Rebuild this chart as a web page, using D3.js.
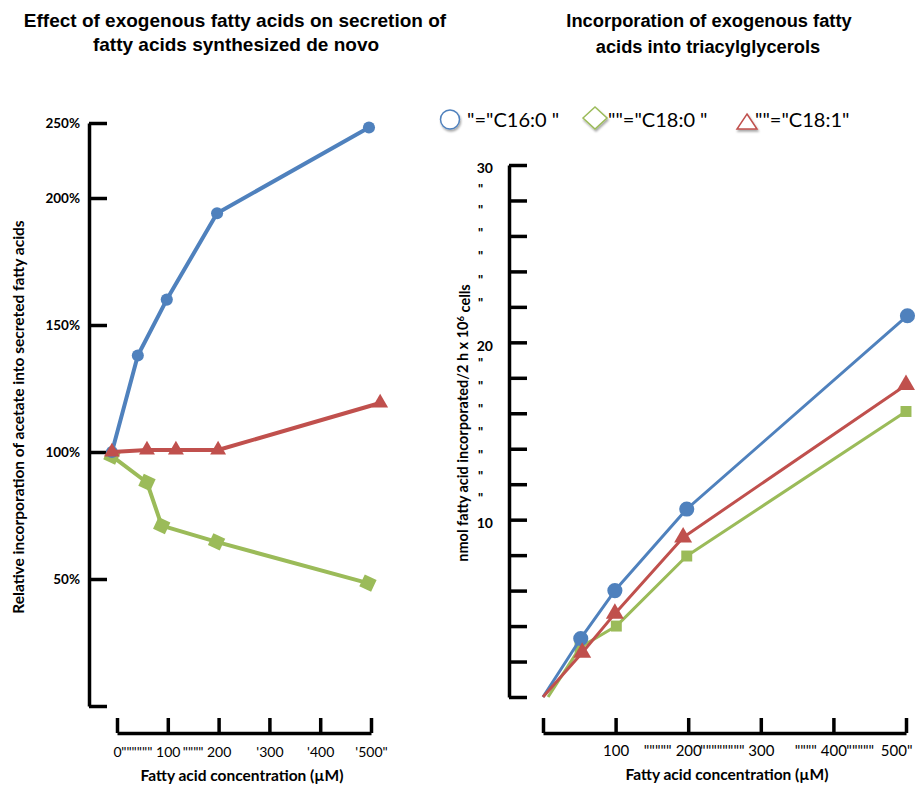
<!DOCTYPE html>
<html>
<head>
<meta charset="utf-8">
<script src="https://cdn.jsdelivr.net/npm/d3@7"></script>
<style>
  body { margin: 0; background: #fff; }
  svg text { font-family: Lato, "Open Sans", sans-serif; fill: #000; }
  .title { font-family: "Liberation Sans", Arial, sans-serif; font-weight: bold; font-size: 19px; }
  .axis path, .axis line { stroke: #000; stroke-width: 3.5; }
</style>
</head>
<body>
<div id="chart"></div>
<script>
// ---- left panel: relative incorporation (% of control) ----
var leftConcC160 = [-10, 41, 98, 197, 496];
var leftC160 = [100, 138, 160, 194, 247];
var leftConcC180 = [-10, 59, 88, 196, 494];
var leftC180 = [98.4, 88, 71, 64.6, 48.4];
var leftConcC181 = [-10, 59, 116, 199, 518];
var leftC181 = [100, 100.8, 100.8, 100.8, 119.3];

var leftYTicks = [0, 50, 100, 150, 200, 250];
var leftXTicks = [0, 100, 200, 300, 400, 500];
var leftXLabels = ['0', '100', '200', "'300", "'400", "'500\""];
var leftXFillAt = [39, 150];
var leftXFillText = ['""""""', '""""'];

// ---- right panel: nmol incorporated into TAG ----
var rightConcC160 = [0, 52, 99, 198, 502];
var rightC160 = [0, 3.3, 6.0, 10.6, 21.5];
var rightConcC180 = [7, 51, 101, 198, 500];
var rightC180 = [0, 2.8, 4.0, 7.95, 16.1];
var rightConcC181 = [0, 54, 99, 193, 500];
var rightC181 = [0, 2.5, 4.7, 9.0, 17.6];

var rightYTicks = [0, 2, 4, 6, 8, 10, 12, 14, 16, 18, 20, 22, 24, 26, 28, 30];
var rightYQuotes = [28.8, 27.6, 26.3, 25.0, 23.7, 22.4, 19.0, 17.7, 16.4, 15.1, 13.8, 12.6, 11.4];
var rightXTicks = [0, 100, 200, 300, 400, 500];
var rightXLabels = ['', '100', '200', '300', '400', '500"'];
var rightXFillAt = [158, 247, 362, 437];
var rightXFillText = ['"""""', '""""""""', '""""', '"""""'];

var legendNames = ['"="C16:0  "', '""="C18:0  "', '""="C18:1"'];

var blue = '#4F81BD', green = '#9BBB59', red = '#C0504D';

var svg = d3.select('#chart')
  .append('svg')
  .attr('width', 918)
  .attr('height', 788);

var defs = svg.append('defs');
defs.append('filter').attr('id', 'shadow')
  .attr('x', '-50%').attr('y', '-50%').attr('width', '200%').attr('height', '200%')
  .append('feDropShadow')
  .attr('dx', 1).attr('dy', 2).attr('stdDeviation', 1.2)
  .attr('flood-color', '#000').attr('flood-opacity', 0.35);

// titles
svg.append('text').attr('class', 'title').attr('x', 235).attr('y', 27)
  .attr('text-anchor', 'middle').text('Effect of exogenous fatty acids on secretion of');
svg.append('text').attr('class', 'title').attr('x', 236).attr('y', 51)
  .attr('text-anchor', 'middle').text('fatty acids synthesized de novo');
svg.append('text').attr('class', 'title').attr('x', 709).attr('y', 27)
  .attr('text-anchor', 'middle').style('font-size', '18.3px').text('Incorporation of exogenous fatty');
svg.append('text').attr('class', 'title').attr('x', 708).attr('y', 53)
  .attr('text-anchor', 'middle').style('font-size', '18.3px').text('acids into triacylglycerols');

// ================= left chart =================
var xL = d3.scaleLinear().domain([0, 500]).range([117, 371]);
var yL = d3.scaleLinear().domain([0, 200, 250]).range([706, 198, 123]);

var yAxisL = svg.append('g')
  .attr('class', 'axis')
  .attr('transform', 'translate(89,0)')
  .call(d3.axisLeft(yL).tickValues(leftYTicks).tickSize(-18).tickSizeOuter(0)
    .tickPadding(9).tickFormat(function (d) { return d ? d + '%' : ''; }));
yAxisL.selectAll('text').style('font-size', '13.5px').style('font-weight', 'bold');

var xAxisL = svg.append('g')
  .attr('class', 'axis')
  .attr('transform', 'translate(0,733)')
  .call(d3.axisBottom(xL).tickValues(leftXTicks).tickSize(-15).tickSizeOuter(0)
    .tickPadding(14).tickFormat(function (d, i) { return leftXLabels[i]; }));
xAxisL.selectAll('text').style('font-size', '14px');

svg.append('g').selectAll('text')
  .data(leftXFillAt)
  .enter()
  .append('text')
  .attr('x', function (d) { return xL(d); })
  .attr('y', 757)
  .attr('text-anchor', 'middle')
  .style('font-size', '14px')
  .text(function (d, i) { return leftXFillText[i]; });

svg.append('text')
  .attr('transform', 'translate(24,417) rotate(-90)')
  .attr('text-anchor', 'middle')
  .style('font-size', '15.5px')
  .style('font-weight', 'bold')
  .text('Relative incorporation of acetate into secreted fatty acids');

svg.append('text')
  .attr('x', 242).attr('y', 781)
  .attr('text-anchor', 'middle')
  .style('font-size', '15.5px')
  .style('font-weight', 'bold')
  .text('Fatty acid concentration (\u00b5M)');

function drawSeries(g, xs, ys, xScale, yScale, color, width, shape, size, rot, skipFirst) {
  var pts = xs.map(function (x, i) { return [x, ys[i]]; });
  g.append('path')
    .datum(pts)
    .attr('fill', 'none')
    .attr('stroke', color)
    .attr('stroke-width', width)
    .attr('stroke-linejoin', 'round')
    .attr('d', d3.line()
      .x(function (d) { return xScale(d[0]); })
      .y(function (d) { return yScale(d[1]); }));
  g.append('g').selectAll('path')
    .data(skipFirst ? pts.slice(1) : pts)
    .enter()
    .append('path')
    .attr('fill', color)
    .attr('d', d3.symbol().type(shape).size(size))
    .attr('transform', function (d) {
      return 'translate(' + xScale(d[0]) + ',' + yScale(d[1]) + ') rotate(' + rot + ')';
    });
}

var plotL = svg.append('g');
drawSeries(plotL, leftConcC180, leftC180, xL, yL, green, 4, d3.symbolSquare, 170, 25, false);
drawSeries(plotL, leftConcC160, leftC160, xL, yL, blue, 4, d3.symbolCircle, 115, 0, false);
drawSeries(plotL, leftConcC181, leftC181, xL, yL, red, 4, d3.symbolTriangle, 110, 0, false);

// ================= right chart =================
var xR = d3.scaleLinear().domain([0, 500]).range([543, 906]);
var yR = d3.scaleLinear().domain([0, 30]).range([697, 165]);

var yAxisR = svg.append('g')
  .attr('class', 'axis')
  .attr('transform', 'translate(509,0)')
  .call(d3.axisLeft(yR).tickValues(rightYTicks).tickSize(-18).tickSizeOuter(0)
    .tickPadding(16).tickFormat(function (d) { return d > 0 && d % 10 === 0 ? d : ''; }));
yAxisR.selectAll('text').style('font-size', '14px').style('font-weight', 'bold').attr('dy', '0.55em');

svg.append('g').selectAll('text')
  .data(rightYQuotes)
  .enter()
  .append('text')
  .attr('x', 478)
  .attr('y', function (d) { return yR(d); })
  .attr('dy', '0.6em')
  .style('font-size', '13px')
  .style('font-weight', 'bold')
  .text('"');

var xAxisR = svg.append('g')
  .attr('class', 'axis')
  .attr('transform', 'translate(0,733)')
  .call(d3.axisBottom(xR).tickValues(rightXTicks).tickSize(-15).tickSizeOuter(0)
    .tickPadding(12).tickFormat(function (d, i) { return rightXLabels[i]; }));
xAxisR.selectAll('text').style('font-size', '15px');
xAxisR.selectAll('.tick').filter(function (d) { return d === 500; })
  .select('text').attr('text-anchor', 'end').attr('x', 6);

svg.append('g').selectAll('text')
  .data(rightXFillAt)
  .enter()
  .append('text')
  .attr('x', function (d) { return xR(d); })
  .attr('y', 755.5)
  .attr('text-anchor', 'middle')
  .style('font-size', '15px')
  .text(function (d, i) { return rightXFillText[i]; });

var yLab = svg.append('text')
  .attr('transform', 'translate(468,423) rotate(-90)')
  .attr('text-anchor', 'middle')
  .style('font-size', '14.5px')
  .style('font-weight', 'bold');
yLab.append('tspan').text('nmol fatty acid incorporated/2 h x 10');
yLab.append('tspan').attr('dy', '-0.45em').style('font-size', '9.5px').text('6');
yLab.append('tspan').attr('dy', '0.45em').text(' cells');

svg.append('text')
  .attr('x', 727).attr('y', 780)
  .attr('text-anchor', 'middle')
  .style('font-size', '15.5px')
  .style('font-weight', 'bold')
  .text('Fatty acid concentration (\u00b5M)');

var plotR = svg.append('g');
drawSeries(plotR, rightConcC180, rightC180, xR, yR, green, 3, d3.symbolSquare, 120, 0, true);
drawSeries(plotR, rightConcC160, rightC160, xR, yR, blue, 3, d3.symbolCircle, 180, 0, true);
drawSeries(plotR, rightConcC181, rightC181, xR, yR, red, 3, d3.symbolTriangle, 140, 0, true);

// ================= legend =================
var legend = svg.append('g');
legend.append('circle')
  .attr('cx', 450).attr('cy', 119.5).attr('r', 9.5)
  .attr('fill', '#fff').attr('stroke', blue).attr('stroke-width', 1.5)
  .attr('filter', 'url(#shadow)');
legend.append('path')
  .attr('d', 'M583,118 L595,107 L607,118 L595,129 Z')
  .attr('fill', '#fff').attr('stroke', green).attr('stroke-width', 1.5)
  .attr('filter', 'url(#shadow)');
legend.append('path')
  .attr('d', 'M747,114 L757,129 L737,129 Z')
  .attr('fill', '#fff').attr('stroke', red).attr('stroke-width', 1.5)
  .attr('filter', 'url(#shadow)');

legend.selectAll('text.lg')
  .data(legendNames)
  .enter()
  .append('text')
  .attr('class', 'lg')
  .attr('x', function (d, i) { return [467, 608, 755][i]; })
  .attr('y', 127)
  .style('font-size', '20px')
  .text(function (d) { return d; });
</script>
</body>
</html>
